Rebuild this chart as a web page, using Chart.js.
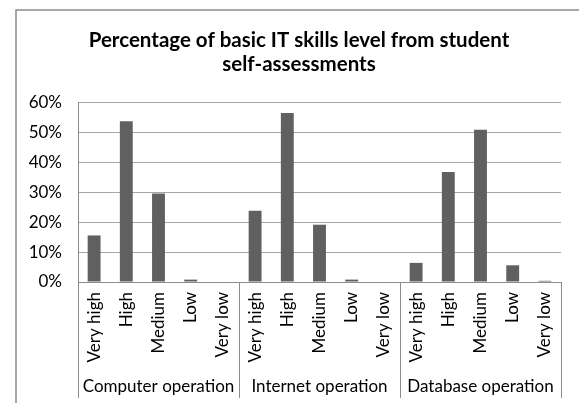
<!DOCTYPE html>
<html>
<head>
<meta charset="utf-8">
<script src="https://cdn.jsdelivr.net/npm/chart.js@4.4.1/dist/chart.umd.min.js"></script>
<style>
  html, body { margin: 0; padding: 0; background: #fff; }
  #wrap { width: 579px; height: 403px; position: relative; }
</style>
</head>
<body>
<div id="wrap"><canvas id="c" width="579" height="403"></canvas></div>
<script>
// ---- data ----
const levels = ["Very high", "High", "Medium", "Low", "Very low"];
const groups = ["Computer operation", "Internet operation", "Database operation"];
const computerOp = [15.6, 53.9, 29.7, 0.8, 0];
const internetOp = [23.9, 56.6, 19.2, 0.8, 0];
const databaseOp = [6.4, 36.9, 51.0, 5.6, 0.4];
const yTicks = [0, 10, 20, 30, 40, 50, 60];
const titleLines = ["Percentage of basic IT skills level from student", "self-assessments"];

const groupSeries = [computerOp, internetOp, databaseOp];
const labels = [];
const values = [];
groupSeries.forEach(g => g.forEach((v, i) => { labels.push(levels[i]); values.push(v); }));

const FONT = "Lato, 'Open Sans', sans-serif";
const gridColor = '#a6a6a6';
const axisColor = '#8c8c8c';

const framePlugin = {
  id: 'frame',
  afterLayout(chart) {
    // centre the title within the (wider) chart frame, as in the original
    const t = chart.titleBlock;
    if (t) {
      const d = 299 - (t.left + t.right) / 2;
      t.left += d;
      t.right += d;
    }
  },
  beforeDraw(chart) {
    const ctx = chart.ctx;
    ctx.save();
    ctx.fillStyle = '#fff';
    ctx.fillRect(0, 0, chart.width, chart.height);
    ctx.strokeStyle = '#8c8c8c';
    ctx.lineWidth = 1.5;
    ctx.strokeRect(16, 10, 1000, 1000);
    ctx.restore();
  }
};

const groupPlugin = {
  id: 'groups',
  afterDraw(chart) {
    const ctx = chart.ctx;
    const x = chart.scales.x;
    const area = chart.chartArea;
    const n = levels.length;
    const bounds = [area.left];
    for (let g = 1; g < groups.length; g++) {
      const i = g * n;
      bounds.push((x.getPixelForValue(i - 1) + x.getPixelForValue(i)) / 2);
    }
    bounds.push(area.right);
    ctx.save();
    ctx.strokeStyle = axisColor;
    ctx.lineWidth = 1;
    bounds.forEach(b => {
      const bx = Math.round(b) + 0.5;
      ctx.beginPath();
      ctx.moveTo(bx, area.bottom);
      ctx.lineTo(bx, area.bottom + 116);
      ctx.stroke();
    });
    ctx.fillStyle = '#000';
    ctx.font = "17px " + FONT;
    ctx.textAlign = 'center';
    ctx.textBaseline = 'alphabetic';
    groups.forEach((name, g) => {
      const cx = (bounds[g] + bounds[g + 1]) / 2;
      ctx.fillText(name, cx, area.bottom + 110);
    });
    ctx.restore();
  }
};

new Chart(document.getElementById('c'), {
  type: 'bar',
  data: {
    labels: labels,
    datasets: [{
      data: values,
      backgroundColor: '#606060',
      borderWidth: 0,
      barPercentage: 0.4,
      categoryPercentage: 1.0
    }]
  },
  options: {
    responsive: false,
    animation: false,
    devicePixelRatio: 1,
    layout: { padding: { left: 0, right: 18, top: 0, bottom: 0 } },
    plugins: {
      legend: { display: false },
      tooltip: { enabled: false },
      title: {
        display: true,
        text: titleLines,
        color: '#000',
        font: { family: FONT, size: 20.5, weight: 'bold', lineHeight: 1.18 },
        padding: { top: 28, bottom: 26.6 }
      }
    },
    scales: {
      x: {
        grid: { display: false, drawTicks: false },
        border: { display: true, color: axisColor },
        ticks: {
          autoSkip: false,
          minRotation: 90,
          maxRotation: 90,
          padding: 10,
          color: '#000',
          font: { family: FONT, size: 17 }
        },
        afterFit(scale) { scale.height = 121; }
      },
      y: {
        min: 0,
        max: 60,
        afterBuildTicks(scale) { scale.ticks = yTicks.map(v => ({ value: v })); },
        grid: { color: gridColor, drawTicks: false },
        border: { display: true, color: axisColor },
        ticks: {
          padding: 16,
          color: '#000',
          font: { family: FONT, size: 17 },
          callback: v => v + '%'
        },
        afterFit(scale) { scale.width = 78; }
      }
    }
  },
  plugins: [framePlugin, groupPlugin]
});
</script>
</body>
</html>
